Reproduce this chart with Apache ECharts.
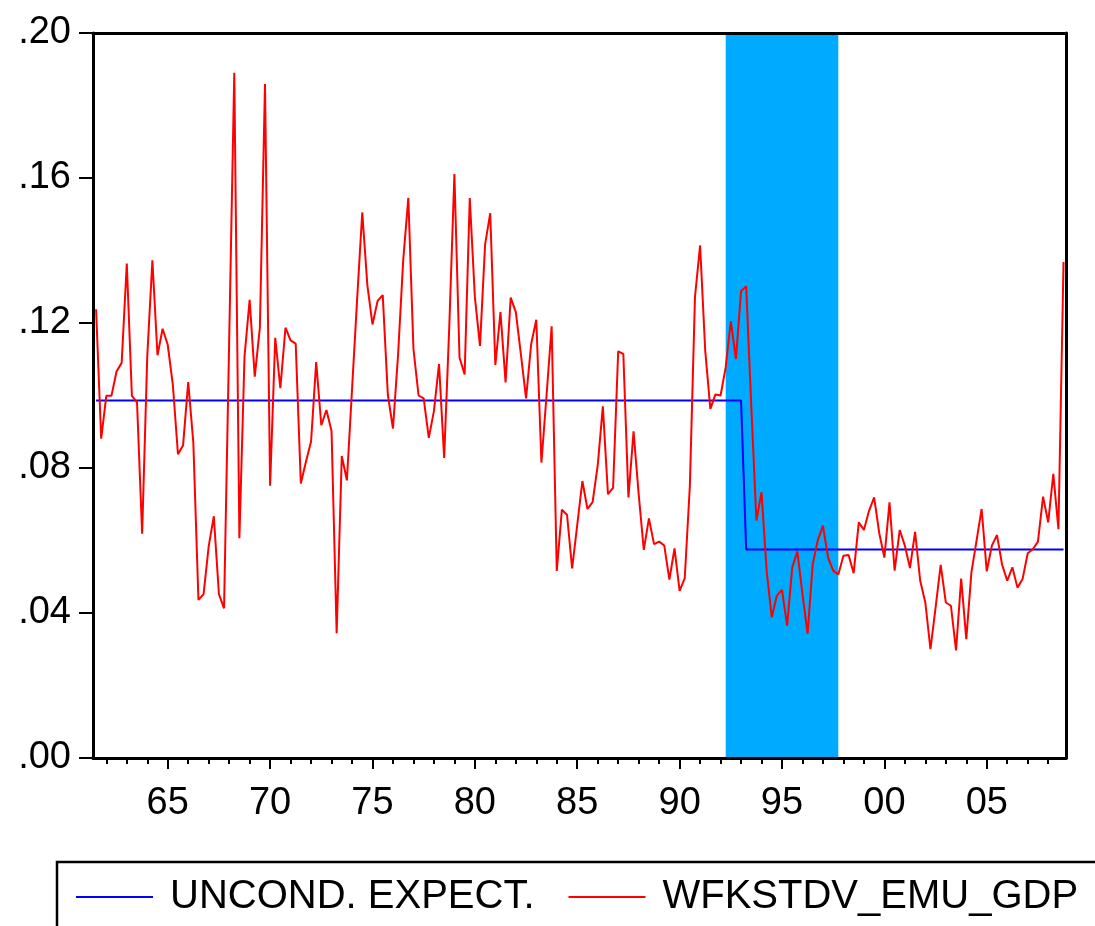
<!DOCTYPE html>
<html>
<head>
<meta charset="utf-8">
<script src="https://cdn.jsdelivr.net/npm/echarts@6/dist/echarts.min.js"></script>
<style>
html,body{margin:0;padding:0;background:#fff;}
#chart{width:1095px;height:926px;}
</style>
</head>
<body>
<div id="chart"></div>
<script>
// ---- DATA ----
// Quarterly observations starting 1961Q3
const firstYear = 1961;
const firstQuarter = 3;
const wfkstdvEmuGdp = [
  0.1238, 0.0881, 0.0999, 0.0999, 0.1066, 0.1090, 0.1364, 0.0999, 0.0981, 0.0619,
  0.1108, 0.1373, 0.1111, 0.1184, 0.1140, 0.1029, 0.0838, 0.0863, 0.1037, 0.0870,
  0.0436, 0.0452, 0.0584, 0.0667, 0.0452, 0.0413, 0.1150, 0.1890, 0.0606, 0.1108,
  0.1264, 0.1052, 0.1187, 0.1859, 0.0751, 0.1159, 0.1020, 0.1187, 0.1152, 0.1143,
  0.0757, 0.0817, 0.0873, 0.1092, 0.0918, 0.0960, 0.0902, 0.0344, 0.0833, 0.0766,
  0.1016, 0.1266, 0.1505, 0.1304, 0.1196, 0.1261, 0.1277, 0.1002, 0.0909, 0.1113,
  0.1373, 0.1545, 0.1129, 0.1000, 0.0992, 0.0883, 0.0957, 0.1087, 0.0828, 0.1190,
  0.1611, 0.1105, 0.1058, 0.1545, 0.1272, 0.1137, 0.1417, 0.1503, 0.1084, 0.1230,
  0.1036, 0.1270, 0.1230, 0.1113, 0.0992, 0.1142, 0.1209, 0.0815, 0.1000, 0.1191,
  0.0516, 0.0685, 0.0671, 0.0523, 0.0643, 0.0764, 0.0687, 0.0706, 0.0807, 0.0970,
  0.0728, 0.0745, 0.1122, 0.1115, 0.0719, 0.0901, 0.0728, 0.0574, 0.0661, 0.0590,
  0.0597, 0.0586, 0.0492, 0.0578, 0.0461, 0.0496, 0.0751, 0.1272, 0.1414, 0.1124,
  0.0963, 0.1003, 0.1000, 0.1078, 0.1205, 0.1101, 0.1288, 0.1301, 0.0970, 0.0655,
  0.0733, 0.0517, 0.0388, 0.0448, 0.0464, 0.0365, 0.0526, 0.0570, 0.0452, 0.0343,
  0.0535, 0.0601, 0.0641, 0.0553, 0.0517, 0.0506, 0.0558, 0.0560, 0.0510, 0.0650,
  0.0629, 0.0682, 0.0719, 0.0620, 0.0553, 0.0705, 0.0517, 0.0629, 0.0586, 0.0524,
  0.0624, 0.0489, 0.0429, 0.0300, 0.0415, 0.0533, 0.0429, 0.0420, 0.0297, 0.0495,
  0.0328, 0.0512, 0.0599, 0.0687, 0.0515, 0.0586, 0.0615, 0.0533, 0.0489, 0.0526,
  0.0470, 0.0494, 0.0565, 0.0576, 0.0597, 0.0721, 0.0650, 0.0784, 0.0631, 0.1368
];
// Unconditional expectation: two regimes (break after 1993Q1)
const uncondTimes  = [1961.5, 1993.0, 1993.25, 2008.75];
const uncondValues = [0.0986, 0.0986, 0.0575, 0.0575];
// Shaded period
const shadeStart = 1992.25;
const shadeEnd = 1997.75;
// Axis ticks / labels
const majorYears = [1965, 1970, 1975, 1980, 1985, 1990, 1995, 2000, 2005];
const majorLabels = ['65', '70', '75', '80', '85', '90', '95', '00', '05'];
const minorYears = [1962,1963,1964,1966,1967,1968,1969,1971,1972,1973,1974,1976,1977,1978,1979,
  1981,1982,1983,1984,1986,1987,1988,1989,1991,1992,1993,1994,1996,1997,1998,1999,
  2001,2002,2003,2004,2006,2007,2008];
const yTicks = [0, 0.04, 0.08, 0.12, 0.16, 0.20];
const yLabels = ['.00', '.04', '.08', '.12', '.16', '.20'];
const seriesNames = ['UNCOND. EXPECT.', 'WFKSTDV_EMU_GDP'];

// ---- BUILD ----
const t0 = firstYear + (firstQuarter - 1) / 4;
const redData = wfkstdvEmuGdp.map((v, i) => [t0 + i / 4, v]);
const blueData = uncondTimes.map((t, i) => [t, uncondValues[i]]);
const X_MIN = 1961.35, X_MAX = 2008.87;
const FONT = 'Liberation Sans, Arial, sans-serif';

const chart = echarts.init(document.getElementById('chart'), null, {renderer: 'canvas'});
const blackLine = {show: true, lineStyle: {color: '#000', width: 3}};
const option = {
  animation: false,
  backgroundColor: '#fff',
  grid: {left: 93, right: 29, top: 33, bottom: 168, containLabel: false},
  xAxis: [
    {
      type: 'value', min: X_MIN, max: X_MAX, position: 'bottom', z: 10,
      axisLine: blackLine,
      axisTick: {show: true, customValues: majorYears, length: 11, lineStyle: {color: '#000', width: 2}},
      axisLabel: {
        customValues: majorYears,
        formatter: (v) => majorLabels[majorYears.indexOf(Math.round(v))] || '',
        fontSize: 38, fontFamily: FONT, color: '#000', margin: 27
      },
      splitLine: {show: false}
    },
    {
      type: 'value', min: X_MIN, max: X_MAX, position: 'bottom', z: 10,
      axisLine: {show: false},
      axisTick: {show: true, customValues: minorYears, length: 6, lineStyle: {color: '#000', width: 2}},
      axisLabel: {show: false},
      splitLine: {show: false}
    },
    {
      type: 'value', min: X_MIN, max: X_MAX, position: 'top', z: 10,
      axisLine: blackLine, axisTick: {show: false}, axisLabel: {show: false}, splitLine: {show: false}
    }
  ],
  yAxis: [
    {
      type: 'value', min: 0, max: 0.2, interval: 0.04, position: 'left', z: 10,
      axisLine: blackLine,
      axisTick: {show: true, length: 14, lineStyle: {color: '#000', width: 2}},
      axisLabel: {
        formatter: (v) => yLabels[yTicks.findIndex(t => Math.abs(t - v) < 1e-6)] || '',
        fontSize: 38, fontFamily: FONT, color: '#000', margin: 22
      },
      splitLine: {show: false}
    },
    {
      type: 'value', min: 0, max: 0.2, interval: 0.04, position: 'right', z: 10,
      axisLine: blackLine, axisTick: {show: false}, axisLabel: {show: false}, splitLine: {show: false}
    }
  ],
  legend: {
    data: seriesNames,
    left: 76, top: 877, width: 1060, padding: 0,
    icon: 'rect', itemWidth: 77, itemHeight: 2, itemGap: 34,
    textStyle: {fontSize: 40, fontFamily: FONT, color: '#000', padding: [0, 0, 0, 12]}
  },
  graphic: [
    {type: 'rect', shape: {x: 57, y: 862, width: 1100, height: 120},
     style: {fill: 'none', stroke: '#000', lineWidth: 2.5}, z: 0}
  ],
  series: [
    {
      name: 'shade', type: 'line', data: [], z: 1, silent: true,
      markArea: {silent: true, itemStyle: {color: '#00AAFF', opacity: 1},
        data: [[{xAxis: shadeStart}, {xAxis: shadeEnd}]]}
    },
    {
      name: seriesNames[0], type: 'line', data: blueData, showSymbol: false, z: 3,
      itemStyle: {color: '#0000FF'}, lineStyle: {color: '#0000FF', width: 2}
    },
    {
      name: seriesNames[1], type: 'line', data: redData, showSymbol: false, z: 4,
      itemStyle: {color: '#FF0000'}, lineStyle: {color: '#FF0000', width: 2}
    }
  ]
};
chart.setOption(option);
</script>
</body>
</html>
